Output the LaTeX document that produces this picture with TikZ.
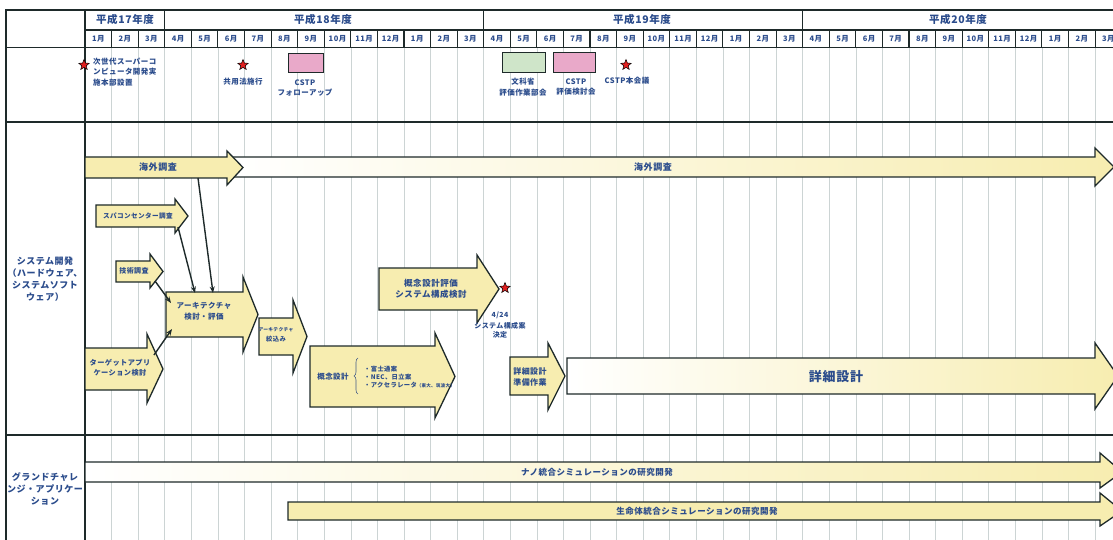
\documentclass[tikz,border=0pt]{standalone}
\usepackage{fontspec}
\setmainfont{Noto Sans CJK JP}[LetterSpace=6]
\usetikzlibrary{shapes.geometric,arrows.meta,decorations.pathreplacing}
\definecolor{txt}{HTML}{2B4C8C}
\definecolor{yel}{HTML}{F7EDB0}
\definecolor{pinkb}{HTML}{E9A9C9}
\definecolor{greenb}{HTML}{CFE5C9}
\definecolor{gridc}{HTML}{CCD4D4}
\definecolor{ink}{HTML}{1E2A2A}
\definecolor{starred}{HTML}{E02020}
\newcommand\fs[1]{\fontsize{#1}{#1}\selectfont}
\newcommand\bkarrow[8]{\path[#1] (#2,#5) -- (#3,#5) -- (#3,#7) -- (#4,{(#5+#6)/2}) -- (#3,#8) -- (#3,#6) -- (#2,#6) -- cycle;}
\tikzset{
  blk/.style={draw=ink, line width=1.3pt, fill=yel, line join=miter},
  grad/.style={draw=ink, line width=1.3pt, left color=white, right color=yel, line join=miter},
  gridline/.style={draw=gridc, line width=0.6pt},
  hdr/.style={draw=ink, line width=1.1pt},
  frame/.style={draw=ink, line width=1.6pt},
  lbl/.style={text=txt, font=\bfseries\fs{7}, align=center, inner sep=0pt},
  mstar/.style={star, star points=5, star point ratio=2.3, minimum size=11pt, inner sep=0pt, fill=starred, draw=black, line width=0.5pt},
  mbox/.style={draw=ink, line width=1pt, inner sep=0pt},
  conn/.style={draw=ink, line width=1.4pt, -{Stealth[length=6.5pt,width=5pt]}},
}
\begin{document}
\begin{tikzpicture}[x=1pt,y=-1pt]
\useasboundingbox (0,0) rectangle (1113,540);
\fill[white] (0,0) rectangle (1113,540);
\clip (0,0) rectangle (1113,540);

% grid
\foreach \k in {1,...,38} \draw[gridline] ({85+26.58*\k},47) -- ({85+26.58*\k},540);
\foreach \k in {1,...,38} \draw[hdr] ({85+26.58*\k},30) -- ({85+26.58*\k},47);
\foreach \k in {3,15,27} \draw[hdr] ({85+26.58*\k},10) -- ({85+26.58*\k},30);

% frame
\draw[frame] (6,540) -- (6,10) -- (1113,10);
\draw[hdr] (85,30) -- (1113,30);
\draw[frame] (6,47.5) -- (1113,47.5);
\draw[frame] (6,122) -- (1113,122);
\draw[hdr] (6,435) -- (1113,435);
\draw[frame] (85,10) -- (85,540);

% header text
\node[lbl, font=\bfseries\fs{10.5}] (y17) at (125,20) {平成17年度};
\node[lbl, font=\bfseries\fs{10.5}] (y18) at (323,20) {平成18年度};
\node[lbl, font=\bfseries\fs{10.5}] (y19) at (642,20) {平成19年度};
\node[lbl, font=\bfseries\fs{10.5}] (y20) at (958,20) {平成20年度};
\foreach \m [count=\i from 0] in {1,2,3,4,5,6,7,8,9,10,11,12,1,2,3,4,5,6,7,8,9,10,11,12,1,2,3,4,5,6,7,8,9,10,11,12,1,2,3}
  \node[lbl, font=\bfseries\fs{7.5}] (m\i) at ({85+26.58*\i+13.29},39) {\m 月};

% milestones
\node[mstar] (st0) at (84,65) {};
\node[lbl, font=\bfseries\fs{7.5}, align=left, anchor=north west] (ms0) at (93,57.5) {次世代スーパーコ\\[3pt]ンピュータ開発実\\[3pt]施本部設置};
\node[mstar] (st1) at (243,65) {};
\node[lbl, font=\bfseries\fs{7.5}] (ms1) at (243,82) {共用法施行};
\node[mbox, fill=pinkb, minimum width=35pt, minimum height=19pt] (cstp1) at (305.5,63.5) {};
\node[lbl, font=\bfseries\fs{7.5}] (ms2) at (305,88) {CSTP\\[3pt]フォローアップ};
\node[mbox, fill=greenb, minimum width=43pt, minimum height=20pt] (monka) at (523.5,63) {};
\node[lbl, font=\bfseries\fs{7.5}] (ms3) at (523,87) {文科省\\[3pt]評価作業部会};
\node[mbox, fill=pinkb, minimum width=42pt, minimum height=20pt] (cstp2) at (574,63) {};
\node[lbl, font=\bfseries\fs{7.5}] (ms4) at (576,87) {CSTP\\[3pt]評価検討会};
\node[mstar] (st2) at (626,65) {};
\node[lbl, font=\bfseries\fs{7.5}] (ms5) at (627,81) {CSTP本会議};

% left labels
\node[lbl, font=\bfseries\fs{9}] (sys) at (45,279) {システム開発\\[3pt]（ハードウェア、\\[3pt]システムソフト\\[3pt]ウェア）};
\node[lbl, font=\bfseries\fs{9}] (gc) at (45,489) {グランドチャレ\\[3pt]ンジ・アプリケー\\[3pt]ション};

% block arrows
\bkarrow{grad}{230}{1095}{1114}{157}{177}{148}{186}
\bkarrow{blk}{85}{227}{243}{157}{178}{151}{185}
\bkarrow{blk}{96}{175}{188}{205}{227}{199}{233}
\bkarrow{blk}{116}{150}{163}{261}{282}{254}{288}
\bkarrow{blk}{166}{243}{258}{292}{337}{277}{352}
\bkarrow{blk}{259}{293}{307}{318}{355}{300}{373}
\bkarrow{blk}{310}{435}{455}{346}{407}{333}{418}
\bkarrow{blk}{379}{477}{499}{268}{310}{255}{323}
\bkarrow{blk}{510}{548}{565}{357}{395}{343}{410}
\bkarrow{grad}{567}{1095}{1118}{358}{394}{343}{409}
\bkarrow{blk}{85}{147}{163}{348}{390}{334}{403}
\bkarrow{grad}{85}{1100}{1122}{462}{482}{453}{488}
\bkarrow{blk}{288}{1100}{1122}{502}{520}{493}{526}

% arrow texts
\node[lbl, font=\bfseries\fs{9}] (kaigai1) at (158,167.5) {海外調査};
\node[lbl, font=\bfseries\fs{9}] (kaigai2) at (653,167) {海外調査};
\node[lbl, font=\bfseries\fs{6.6}] (supacon) at (138,216) {スパコンセンター調査};
\node[lbl, font=\bfseries\fs{7}] (gijutsu) at (134,271) {技術調査};
\node[lbl, font=\bfseries\fs{7.5}] (arch) at (204,311) {アーキテクチャ\\[3pt]検討・評価};
\node[lbl] (shibori) at (276,335) {{\fs{4.8}アーキテクチャ}\\[3pt]{\fs{6.3}絞込み}};
\node[lbl, font=\bfseries\fs{7.5}] (gainen) at (333,377) {概念設計};
\draw[txt!70!gray, line width=0.6pt, decorate, decoration={brace, amplitude=4pt}] (358,394) -- (358,358);
\node[lbl, font=\bfseries\fs{6.3}, align=left, anchor=west] (items) at (364,377) {・富士通案\\[2pt]・NEC、日立案\\[2pt]・アクセラレータ{\fs{4.5}（東大、筑波大）}};
\node[lbl, font=\bfseries\fs{8.5}] (hyoka) at (431,289) {概念設計評価\\[3pt]システム構成検討};
\node[mstar] (st424) at (505,288) {};
\node[lbl, font=\bfseries\fs{7}] (kettei) at (500,325) {4/24\\[2pt]システム構成案\\[2pt]決定};
\node[lbl, font=\bfseries\fs{8}, align=left] (junbi) at (530,377) {詳細設計\\[3pt]準備作業};
\node[lbl, font=\bfseries\fs{13}] (shosai) at (836,377) {詳細設計};
\node[lbl, font=\bfseries\fs{7.2}] (target) at (120,368) {ターゲットアプリ\\[3pt]ケーション検討};
\node[lbl, font=\bfseries\fs{8.5}] (nano) at (597,472) {ナノ統合シミュレーションの研究開発};
\node[lbl, font=\bfseries\fs{8.5}] (seimei) at (697,511) {生命体統合シミュレーションの研究開発};

% connectors
\coordinate (kaigaiOut) at (198,178);
\coordinate (supaOut) at (178,227);
\coordinate (gijOut) at (155,281);
\coordinate (tgtOut) at (154,355);
\coordinate (archIn1) at (213,293);
\coordinate (archIn2) at (195,293);
\coordinate (archIn3) at (171,303);
\coordinate (archIn4) at (172,329);
\draw[conn] (kaigaiOut) -- (archIn1);
\draw[conn] (supaOut) -- (archIn2);
\draw[conn] (gijOut) -- (archIn3);
\draw[conn] (tgtOut) -- (archIn4);
\end{tikzpicture}
\end{document}
